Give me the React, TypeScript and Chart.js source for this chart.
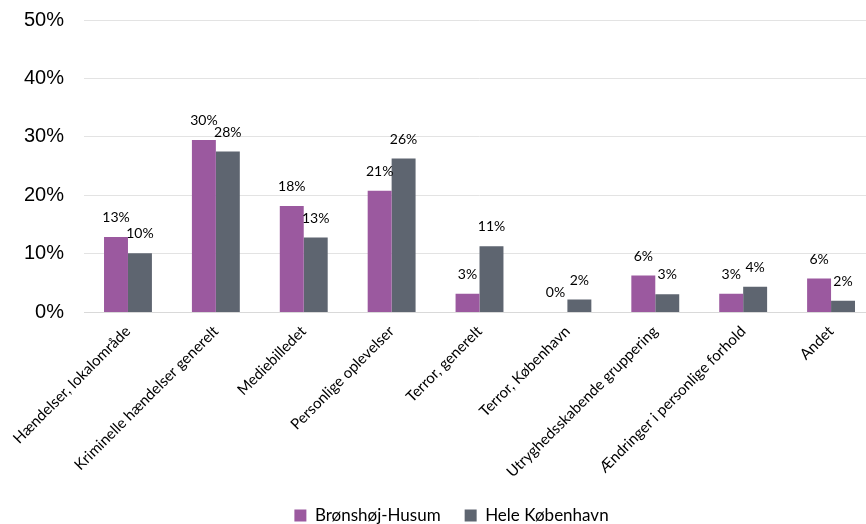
import React, { useEffect, useRef } from "react";
import { Chart, registerables } from "chart.js";

Chart.register(...registerables);

const categories = [
  "Hændelser, lokalområde",
  "Kriminelle hændelser generelt",
  "Mediebilledet",
  "Personlige oplevelser",
  "Terror, generelt",
  "Terror, København",
  "Utryghedsskabende gruppering",
  "Ændringer i personlige forhold",
  "Andet",
];
const seriesNames = ["Brønshøj-Husum", "Hele København"];
const bronshojValues = [12.9, 29.5, 18.2, 20.8, 3.2, 0, 6.3, 3.2, 5.8];
const heleValues = [10.1, 27.5, 12.8, 26.3, 11.3, 2.2, 3.1, 4.4, 2.0];
const yTicks = [0, 10, 20, 30, 40, 50];

const labelFont = "Lato, 'DejaVu Sans', sans-serif";

const dataLabelPlugin = {
  id: "dataLabels",
  afterLayout(chart: any) {
    if (chart.legend) {
      chart.legend.left += 12;
      chart.legend.right += 12;
    }
  },
  afterDatasetsDraw(chart: any) {
    const ctx = chart.ctx;
    ctx.save();
    ctx.font = `14px ${labelFont}`;
    ctx.fillStyle = "#000";
    ctx.textAlign = "center";
    ctx.textBaseline = "alphabetic";
    chart.data.datasets.forEach((ds: any, i: number) => {
      const meta = chart.getDatasetMeta(i);
      meta.data.forEach((bar: any, j: number) => {
        const v = ds.data[j];
        ctx.fillText(`${Math.round(v)}%`, bar.x, bar.y - 15);
      });
    });
    ctx.restore();
  },
};

export default function App() {
  const ref = useRef<HTMLCanvasElement>(null);
  useEffect(() => {
    document.body.style.margin = "0";
    document.body.style.overflow = "hidden";
    const chart = new Chart(ref.current!, {
      type: "bar",
      data: {
        labels: categories,
        datasets: [
          {
            label: seriesNames[0],
            data: bronshojValues,
            backgroundColor: "#9B599F",
            categoryPercentage: 0.545,
            barPercentage: 1,
          },
          {
            label: seriesNames[1],
            data: heleValues,
            backgroundColor: "#5E6570",
            categoryPercentage: 0.545,
            barPercentage: 1,
          },
        ],
      },
      options: {
        responsive: false,
        animation: false,
        layout: { padding: { left: 4, right: 5, top: 0, bottom: -10 } },
        plugins: {
          legend: {
            position: "bottom",
            labels: {
              font: { family: labelFont, size: 17 },
              color: "#000",
              boxWidth: 12,
              boxHeight: 12,
              padding: 24,
            },
          },
          tooltip: { enabled: false },
        },
        scales: {
          x: {
            grid: { display: false },
            border: { color: "#D9D9D9" },
            ticks: {
              minRotation: 45,
              maxRotation: 45,
              color: "#000",
              font: { family: labelFont, size: 15 },
              padding: 2,
            },
          },
          y: {
            min: 0,
            max: 50,
            afterBuildTicks: (axis: any) => {
              axis.ticks = yTicks.map((v) => ({ value: v }));
            },
            grid: { color: "#E3E3E3", drawTicks: false },
            border: { display: false },
            ticks: {
              callback: (v: any) => `${v}%`,
              color: "#000",
              font: { family: "'Liberation Sans', Arial, sans-serif", size: 20 },
              padding: 20,
            },
          },
        },
      },
      plugins: [dataLabelPlugin],
    });
    return () => chart.destroy();
  }, []);
  return (
    <div style={{ position: "fixed", left: 0, top: -12, width: 880, height: 536 }}>
      <canvas ref={ref} width={880} height={536} />
    </div>
  );
}
